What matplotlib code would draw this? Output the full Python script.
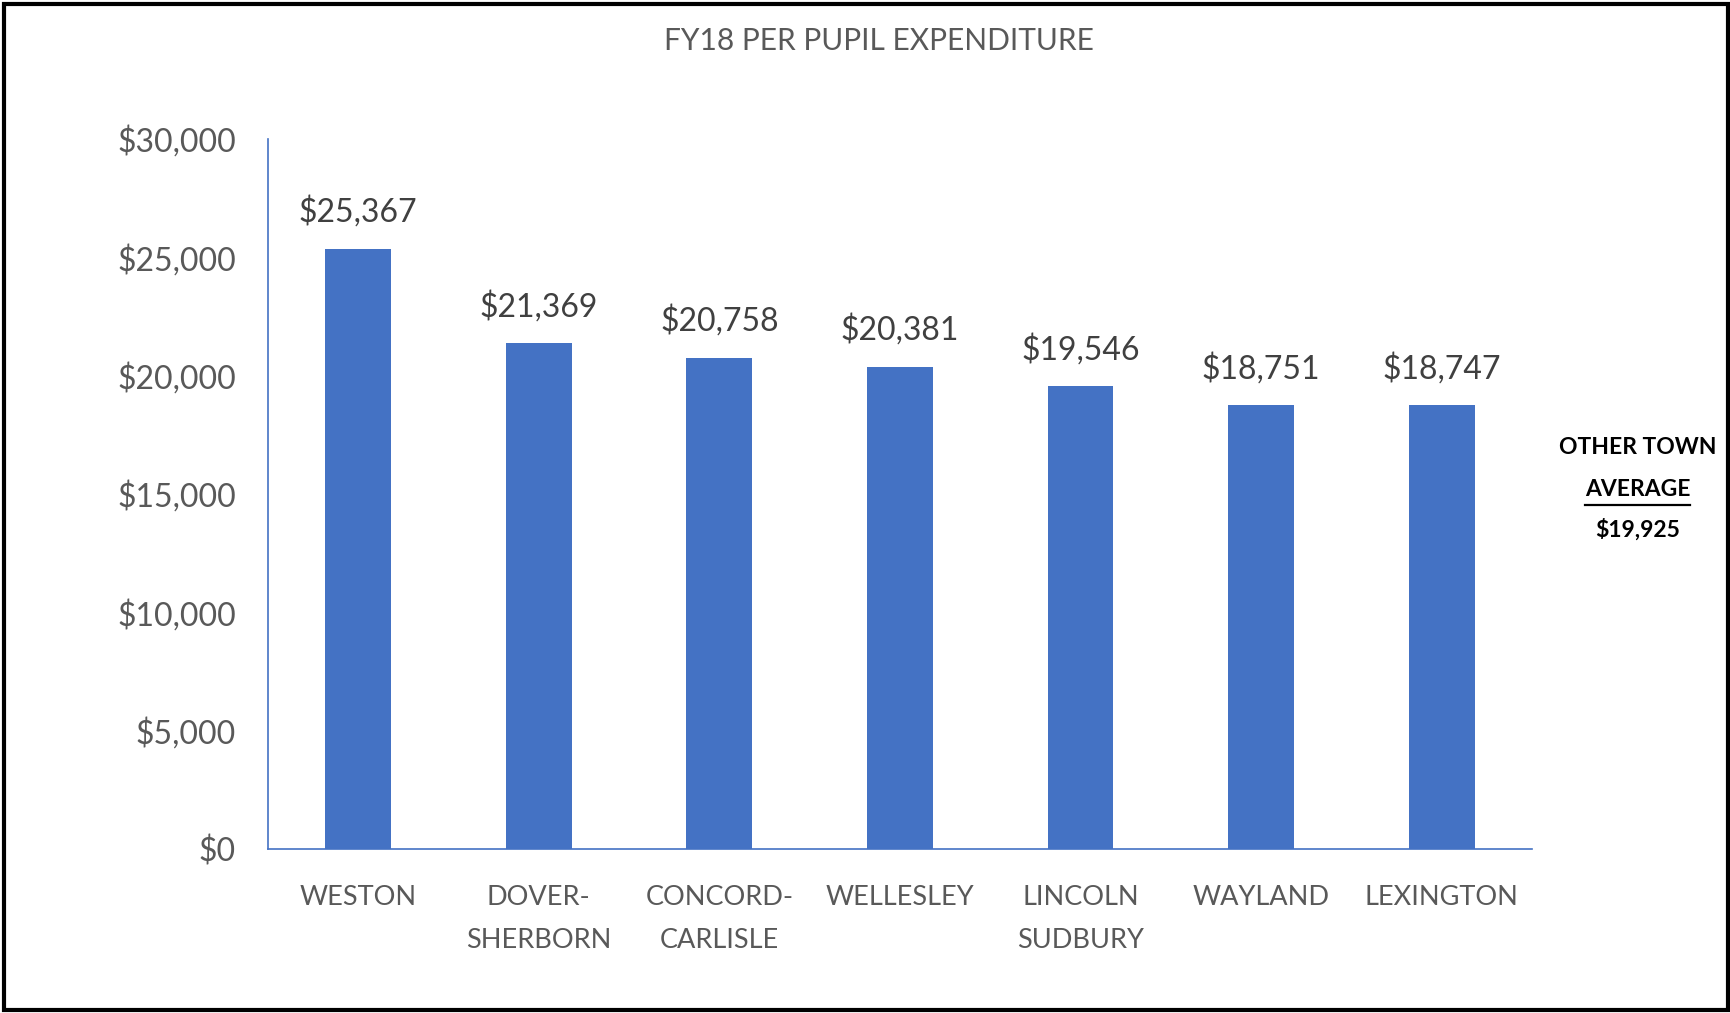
import matplotlib.pyplot as plt
from matplotlib.patches import Rectangle
from matplotlib.ticker import FuncFormatter

# district names and FY18 per pupil spend
districts = ["WESTON", "DOVER-\nSHERBORN", "CONCORD-\nCARLISLE", "WELLESLEY",
             "LINCOLN\nSUDBURY", "WAYLAND", "LEXINGTON"]
spend = [25367, 21369, 20758, 20381, 19546, 18751, 18747]
y_ticks = [0, 5000, 10000, 15000, 20000, 25000, 30000]
other_avg = 19925

bar_color = "#4472C4"
gray = "#595959"
plt.rcParams['font.family'] = ['Lato', 'DejaVu Sans']

fig = plt.figure(figsize=(17.31, 10.13), dpi=100)
ax = fig.add_axes([0.1548, 0.1619, 0.7302, 0.7009])

x = range(len(districts))
bars = ax.bar(x, spend, width=0.365, color=bar_color, zorder=2)

# value labels above each bar
for b, v in zip(bars, spend):
    ax.annotate(f"${v:,.0f}", (b.get_x() + b.get_width() / 2, v),
                xytext=(0, 15), textcoords="offset points",
                ha="center", va="bottom", fontsize=23, color="#404040")

ax.set_xlim(-0.5, len(districts) - 0.5)
ax.set_ylim(0, 30000)
ax.set_yticks(y_ticks)
ax.yaxis.set_major_formatter(FuncFormatter(lambda v, p: f"${v:,.0f}"))
ax.set_xticks(list(x))
ax.set_xticklabels(districts, fontsize=19.5, color=gray, linespacing=1.9, va="top")
ax.tick_params(axis="y", length=0, pad=23, labelsize=23, labelcolor=gray)
ax.tick_params(axis="x", length=0, pad=26)

for s in ["top", "right"]:
    ax.spines[s].set_visible(False)
for s in ["left", "bottom"]:
    ax.spines[s].set_color(bar_color)
    ax.spines[s].set_linewidth(1.2)

fig.text(0.508, 0.96, "FY18 PER PUPIL EXPENDITURE", ha="center", va="center",
         fontsize=21.5, color=gray)

# side note on the right
fig.text(0.946, 0.558, "OTHER TOWN", ha="center", va="center",
         fontsize=16.5, fontweight="bold", color="black")
avg_txt = fig.text(0.946, 0.517, "AVERAGE", ha="center", va="center",
                   fontsize=16.5, fontweight="bold", color="black")
fig.text(0.946, 0.477, f"${other_avg:,.0f}", ha="center", va="center",
         fontsize=16.5, fontweight="bold", color="black")

# underline under AVERAGE, as wide as the word
fig.canvas.draw()
bb = avg_txt.get_window_extent().transformed(fig.transFigure.inverted())
fig.add_artist(plt.Line2D([bb.x0, bb.x1], [0.5015, 0.5015], color="black", lw=1.6))

# black frame round the whole picture
fig.add_artist(Rectangle((0.0025, 0.0025), 0.9955, 0.9935, transform=fig.transFigure,
                         fill=False, edgecolor="black", lw=3))

fig.savefig("out.png", dpi=100)
